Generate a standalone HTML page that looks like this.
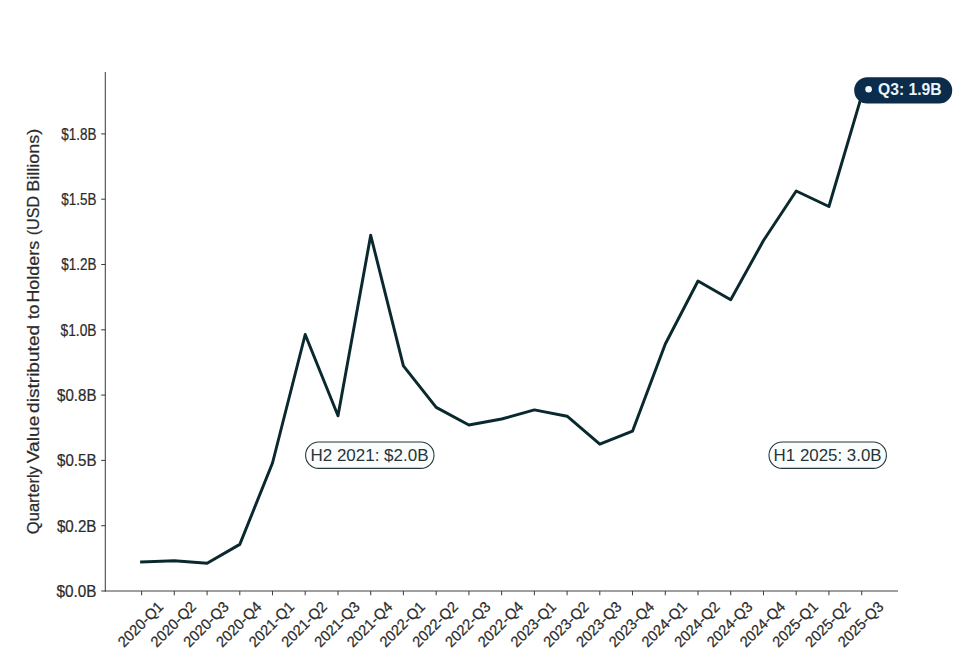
<!DOCTYPE html>
<html><head><meta charset="utf-8"><title>Quarterly Value distributed to Holders</title>
<style>
html,body{margin:0;padding:0;background:#fff;}
body{width:958px;height:666px;overflow:hidden;font-family:"Liberation Sans",sans-serif;}
svg{display:block;}
text{font-family:"Liberation Sans",sans-serif;}
.t{stroke:#2b2b2b;stroke-width:0.22px;}
</style></head><body>
<svg width="958" height="666" viewBox="0 0 958 666">
<rect x="0" y="0" width="958" height="666" fill="#ffffff"/>

<line x1="105.3" y1="72" x2="105.3" y2="591.5500000000001" stroke="#404040" stroke-width="1.05"/>
<line x1="104.7" y1="590.95" x2="898" y2="590.95" stroke="#404040" stroke-width="1.05"/>
<line x1="101.2" y1="591.0" x2="105.3" y2="591.0" stroke="#404040" stroke-width="1.05"/>
<text x="96.5" y="596.9" class="t" font-size="15.6" fill="#2b2b2b" text-anchor="end" textLength="40.0" lengthAdjust="spacingAndGlyphs">$0.0B</text>
<line x1="101.2" y1="525.7" x2="105.3" y2="525.7" stroke="#404040" stroke-width="1.05"/>
<text x="96.5" y="531.6" class="t" font-size="15.6" fill="#2b2b2b" text-anchor="end" textLength="39.6" lengthAdjust="spacingAndGlyphs">$0.2B</text>
<line x1="101.2" y1="460.4" x2="105.3" y2="460.4" stroke="#404040" stroke-width="1.05"/>
<text x="96.5" y="466.2" class="t" font-size="15.6" fill="#2b2b2b" text-anchor="end" textLength="39.4" lengthAdjust="spacingAndGlyphs">$0.5B</text>
<line x1="101.2" y1="395.1" x2="105.3" y2="395.1" stroke="#404040" stroke-width="1.05"/>
<text x="96.5" y="401.0" class="t" font-size="15.6" fill="#2b2b2b" text-anchor="end" textLength="39.4" lengthAdjust="spacingAndGlyphs">$0.8B</text>
<line x1="101.2" y1="329.8" x2="105.3" y2="329.8" stroke="#404040" stroke-width="1.05"/>
<text x="96.5" y="335.7" class="t" font-size="15.6" fill="#2b2b2b" text-anchor="end" textLength="36.0" lengthAdjust="spacingAndGlyphs">$1.0B</text>
<line x1="101.2" y1="264.5" x2="105.3" y2="264.5" stroke="#404040" stroke-width="1.05"/>
<text x="96.5" y="270.4" class="t" font-size="15.6" fill="#2b2b2b" text-anchor="end" textLength="35.2" lengthAdjust="spacingAndGlyphs">$1.2B</text>
<line x1="101.2" y1="199.2" x2="105.3" y2="199.2" stroke="#404040" stroke-width="1.05"/>
<text x="96.5" y="205.1" class="t" font-size="15.6" fill="#2b2b2b" text-anchor="end" textLength="35.2" lengthAdjust="spacingAndGlyphs">$1.5B</text>
<line x1="101.2" y1="133.9" x2="105.3" y2="133.9" stroke="#404040" stroke-width="1.05"/>
<text x="96.5" y="139.8" class="t" font-size="15.6" fill="#2b2b2b" text-anchor="end" textLength="35.2" lengthAdjust="spacingAndGlyphs">$1.8B</text>
<line x1="141.6" y1="590.95" x2="141.6" y2="595.35" stroke="#404040" stroke-width="1.05"/>
<text transform="translate(140.6,624.3) rotate(-45)" x="0" y="5" class="t" font-size="15" fill="#2b2b2b" text-anchor="middle" textLength="57" lengthAdjust="spacingAndGlyphs">2020-Q1</text>
<line x1="174.3" y1="590.95" x2="174.3" y2="595.35" stroke="#404040" stroke-width="1.05"/>
<text transform="translate(173.3,624.3) rotate(-45)" x="0" y="5" class="t" font-size="15" fill="#2b2b2b" text-anchor="middle" textLength="57" lengthAdjust="spacingAndGlyphs">2020-Q2</text>
<line x1="207.1" y1="590.95" x2="207.1" y2="595.35" stroke="#404040" stroke-width="1.05"/>
<text transform="translate(206.1,624.3) rotate(-45)" x="0" y="5" class="t" font-size="15" fill="#2b2b2b" text-anchor="middle" textLength="57" lengthAdjust="spacingAndGlyphs">2020-Q3</text>
<line x1="239.8" y1="590.95" x2="239.8" y2="595.35" stroke="#404040" stroke-width="1.05"/>
<text transform="translate(238.8,624.3) rotate(-45)" x="0" y="5" class="t" font-size="15" fill="#2b2b2b" text-anchor="middle" textLength="57" lengthAdjust="spacingAndGlyphs">2020-Q4</text>
<line x1="272.5" y1="590.95" x2="272.5" y2="595.35" stroke="#404040" stroke-width="1.05"/>
<text transform="translate(271.5,624.3) rotate(-45)" x="0" y="5" class="t" font-size="15" fill="#2b2b2b" text-anchor="middle" textLength="57" lengthAdjust="spacingAndGlyphs">2021-Q1</text>
<line x1="305.2" y1="590.95" x2="305.2" y2="595.35" stroke="#404040" stroke-width="1.05"/>
<text transform="translate(304.2,624.3) rotate(-45)" x="0" y="5" class="t" font-size="15" fill="#2b2b2b" text-anchor="middle" textLength="57" lengthAdjust="spacingAndGlyphs">2021-Q2</text>
<line x1="338.0" y1="590.95" x2="338.0" y2="595.35" stroke="#404040" stroke-width="1.05"/>
<text transform="translate(337.0,624.3) rotate(-45)" x="0" y="5" class="t" font-size="15" fill="#2b2b2b" text-anchor="middle" textLength="57" lengthAdjust="spacingAndGlyphs">2021-Q3</text>
<line x1="370.7" y1="590.95" x2="370.7" y2="595.35" stroke="#404040" stroke-width="1.05"/>
<text transform="translate(369.7,624.3) rotate(-45)" x="0" y="5" class="t" font-size="15" fill="#2b2b2b" text-anchor="middle" textLength="57" lengthAdjust="spacingAndGlyphs">2021-Q4</text>
<line x1="403.4" y1="590.95" x2="403.4" y2="595.35" stroke="#404040" stroke-width="1.05"/>
<text transform="translate(402.4,624.3) rotate(-45)" x="0" y="5" class="t" font-size="15" fill="#2b2b2b" text-anchor="middle" textLength="57" lengthAdjust="spacingAndGlyphs">2022-Q1</text>
<line x1="436.2" y1="590.95" x2="436.2" y2="595.35" stroke="#404040" stroke-width="1.05"/>
<text transform="translate(435.2,624.3) rotate(-45)" x="0" y="5" class="t" font-size="15" fill="#2b2b2b" text-anchor="middle" textLength="57" lengthAdjust="spacingAndGlyphs">2022-Q2</text>
<line x1="468.9" y1="590.95" x2="468.9" y2="595.35" stroke="#404040" stroke-width="1.05"/>
<text transform="translate(467.9,624.3) rotate(-45)" x="0" y="5" class="t" font-size="15" fill="#2b2b2b" text-anchor="middle" textLength="57" lengthAdjust="spacingAndGlyphs">2022-Q3</text>
<line x1="501.6" y1="590.95" x2="501.6" y2="595.35" stroke="#404040" stroke-width="1.05"/>
<text transform="translate(500.6,624.3) rotate(-45)" x="0" y="5" class="t" font-size="15" fill="#2b2b2b" text-anchor="middle" textLength="57" lengthAdjust="spacingAndGlyphs">2022-Q4</text>
<line x1="534.4" y1="590.95" x2="534.4" y2="595.35" stroke="#404040" stroke-width="1.05"/>
<text transform="translate(533.4,624.3) rotate(-45)" x="0" y="5" class="t" font-size="15" fill="#2b2b2b" text-anchor="middle" textLength="57" lengthAdjust="spacingAndGlyphs">2023-Q1</text>
<line x1="567.1" y1="590.95" x2="567.1" y2="595.35" stroke="#404040" stroke-width="1.05"/>
<text transform="translate(566.1,624.3) rotate(-45)" x="0" y="5" class="t" font-size="15" fill="#2b2b2b" text-anchor="middle" textLength="57" lengthAdjust="spacingAndGlyphs">2023-Q2</text>
<line x1="599.8" y1="590.95" x2="599.8" y2="595.35" stroke="#404040" stroke-width="1.05"/>
<text transform="translate(598.8,624.3) rotate(-45)" x="0" y="5" class="t" font-size="15" fill="#2b2b2b" text-anchor="middle" textLength="57" lengthAdjust="spacingAndGlyphs">2023-Q3</text>
<line x1="632.5" y1="590.95" x2="632.5" y2="595.35" stroke="#404040" stroke-width="1.05"/>
<text transform="translate(631.5,624.3) rotate(-45)" x="0" y="5" class="t" font-size="15" fill="#2b2b2b" text-anchor="middle" textLength="57" lengthAdjust="spacingAndGlyphs">2023-Q4</text>
<line x1="665.3" y1="590.95" x2="665.3" y2="595.35" stroke="#404040" stroke-width="1.05"/>
<text transform="translate(664.3,624.3) rotate(-45)" x="0" y="5" class="t" font-size="15" fill="#2b2b2b" text-anchor="middle" textLength="57" lengthAdjust="spacingAndGlyphs">2024-Q1</text>
<line x1="698.0" y1="590.95" x2="698.0" y2="595.35" stroke="#404040" stroke-width="1.05"/>
<text transform="translate(697.0,624.3) rotate(-45)" x="0" y="5" class="t" font-size="15" fill="#2b2b2b" text-anchor="middle" textLength="57" lengthAdjust="spacingAndGlyphs">2024-Q2</text>
<line x1="730.7" y1="590.95" x2="730.7" y2="595.35" stroke="#404040" stroke-width="1.05"/>
<text transform="translate(729.7,624.3) rotate(-45)" x="0" y="5" class="t" font-size="15" fill="#2b2b2b" text-anchor="middle" textLength="57" lengthAdjust="spacingAndGlyphs">2024-Q3</text>
<line x1="763.5" y1="590.95" x2="763.5" y2="595.35" stroke="#404040" stroke-width="1.05"/>
<text transform="translate(762.5,624.3) rotate(-45)" x="0" y="5" class="t" font-size="15" fill="#2b2b2b" text-anchor="middle" textLength="57" lengthAdjust="spacingAndGlyphs">2024-Q4</text>
<line x1="796.2" y1="590.95" x2="796.2" y2="595.35" stroke="#404040" stroke-width="1.05"/>
<text transform="translate(795.2,624.3) rotate(-45)" x="0" y="5" class="t" font-size="15" fill="#2b2b2b" text-anchor="middle" textLength="57" lengthAdjust="spacingAndGlyphs">2025-Q1</text>
<line x1="828.9" y1="590.95" x2="828.9" y2="595.35" stroke="#404040" stroke-width="1.05"/>
<text transform="translate(827.9,624.3) rotate(-45)" x="0" y="5" class="t" font-size="15" fill="#2b2b2b" text-anchor="middle" textLength="57" lengthAdjust="spacingAndGlyphs">2025-Q2</text>
<line x1="861.7" y1="590.95" x2="861.7" y2="595.35" stroke="#404040" stroke-width="1.05"/>
<text transform="translate(860.7,624.3) rotate(-45)" x="0" y="5" class="t" font-size="15" fill="#2b2b2b" text-anchor="middle" textLength="57" lengthAdjust="spacingAndGlyphs">2025-Q3</text>
<text transform="translate(39.4,534.2) rotate(-90)" x="0" y="0" class="t" font-size="16" fill="#2b2b2b" textLength="68.1" lengthAdjust="spacingAndGlyphs">Quarterly</text>
<text transform="translate(39.4,463.3) rotate(-90)" x="0" y="0" class="t" font-size="16" fill="#2b2b2b" textLength="47.6" lengthAdjust="spacingAndGlyphs">Value</text>
<text transform="translate(39.4,412.9) rotate(-90)" x="0" y="0" class="t" font-size="16" fill="#2b2b2b" textLength="88.0" lengthAdjust="spacingAndGlyphs">distributed</text>
<text transform="translate(39.4,319.0) rotate(-90)" x="0" y="0" class="t" font-size="16" fill="#2b2b2b" textLength="14.4" lengthAdjust="spacingAndGlyphs">to</text>
<text transform="translate(39.4,302.6) rotate(-90)" x="0" y="0" class="t" font-size="16" fill="#2b2b2b" textLength="61.7" lengthAdjust="spacingAndGlyphs">Holders</text>
<text transform="translate(39.4,235.3) rotate(-90)" x="0" y="0" class="t" font-size="16" fill="#2b2b2b" textLength="39.3" lengthAdjust="spacingAndGlyphs">(USD</text>
<text transform="translate(39.4,191.7) rotate(-90)" x="0" y="0" class="t" font-size="16" fill="#2b2b2b" textLength="62.9" lengthAdjust="spacingAndGlyphs">Billions)</text>
<polyline points="141.6,562.0 174.3,560.7 207.1,563.2 239.8,544.4 272.5,463.0 305.2,334.5 338.0,415.8 370.7,235.3 403.4,365.8 436.2,407.4 468.9,425.0 501.6,419.0 534.4,409.9 567.1,416.2 599.8,444.2 632.5,431.2 665.3,344.0 698.0,281.0 730.7,299.8 763.5,240.5 796.2,191.0 828.9,206.5 861.7,95.5" fill="none" stroke="#0a292e" stroke-width="2.95" stroke-linejoin="round" stroke-linecap="square"/>
<rect x="305.6" y="442" width="128.4" height="26.4" rx="13.2" ry="13.2" fill="#fbfdfd" stroke="#24383f" stroke-width="1.1"/>
<text x="310.5" y="461.2" font-size="17" fill="#25343b" textLength="118" lengthAdjust="spacingAndGlyphs">H2 2021: $2.0B</text>
<rect x="769" y="442" width="117.4" height="26.4" rx="13.2" ry="13.2" fill="#fbfdfd" stroke="#24383f" stroke-width="1.1"/>
<text x="773.6" y="461.2" font-size="17" fill="#25343b" textLength="108" lengthAdjust="spacingAndGlyphs">H1 2025: 3.0B</text>
<rect x="854.2" y="77.2" width="98" height="26.3" rx="13.1" ry="13.1" fill="#0b2c4a"/>
<circle cx="868.6" cy="89.3" r="3.3" fill="#f2f8fc"/>
<text x="878" y="95.3" font-size="16" font-weight="bold" fill="#eaf5fb" textLength="63.6" lengthAdjust="spacingAndGlyphs">Q3: 1.9B</text>
</svg></body></html>
